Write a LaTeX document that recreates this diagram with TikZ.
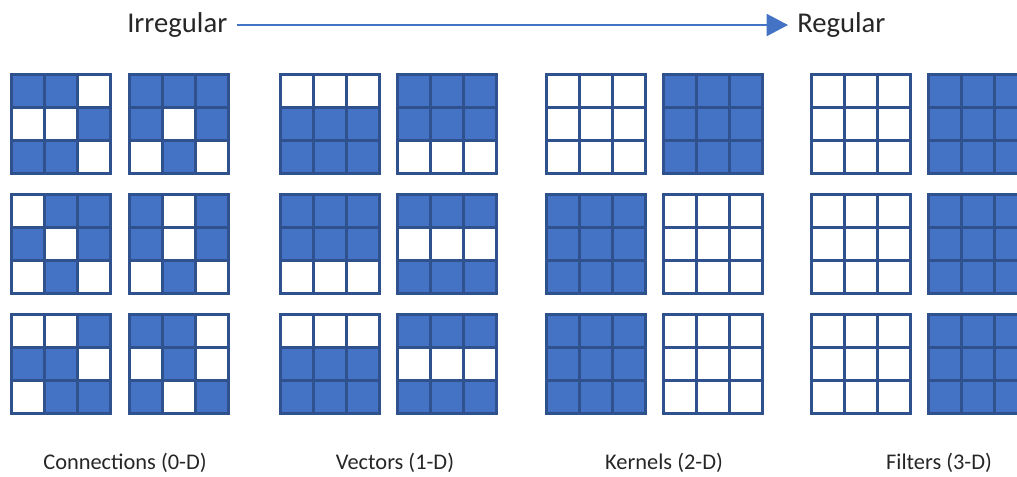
\documentclass[tikz,border=0pt]{standalone}
\usepackage{fontspec}
\setmainfont{Carlito}
\usetikzlibrary{positioning,arrows.meta}
\definecolor{cellblue}{HTML}{4472C4}
\definecolor{celledge}{HTML}{2F528F}
\tikzset{
  cell/.style={draw=celledge, line width=2.25pt},
  c0/.style={fill=white},
  c1/.style={fill=cellblue},
  head/.style={font=\fontsize{21.5}{24}\selectfont, inner sep=0pt, text=black!85},
  grplbl/.style={font=\fontsize{16.8}{20}\selectfont, inner sep=0pt, anchor=base, text=black!85},
  prog/.style={-{Triangle[length=16pt, width=16.5pt]}, draw=cellblue, line width=1.5pt, shorten <=7.5pt, shorten >=6.75pt},
}
% one 3x3 grid: top left corner, then the nine cells row by row (1 = filled)
\newcommand\cellgrid[3]{%
  \foreach \v [count=\k from 0] in {#3} {
    \pgfmathtruncatemacro\cc{mod(\k,3)}
    \pgfmathtruncatemacro\rr{div(\k,3)}
    \draw[cell, c\v] ({#1+33*\cc},{#2+33*\rr}) rectangle ++(33,33);
  }}
\begin{document}
\begin{tikzpicture}[x=0.75pt, y=-0.75pt]
\useasboundingbox (0,0) rectangle (1017,476);
\clip (0,0) rectangle (1017,476);
\node[head, anchor=base west] (irr) at (127,32.5) {Irregular};
\node[head, anchor=base west] (reg) at (797,32.5) {Regular};
\draw[prog] (irr) -- (reg);
% connections
\cellgrid{11.5}{74.5}{1,1,0,0,0,1,1,1,0}
\cellgrid{129.5}{74.5}{1,1,1,1,0,1,0,1,0}
\cellgrid{11.5}{194.5}{0,1,1,1,0,1,0,1,0}
\cellgrid{129.5}{194.5}{1,0,1,1,0,1,0,1,0}
\cellgrid{11.5}{314.5}{0,0,1,1,1,0,0,1,1}
\cellgrid{129.5}{314.5}{1,1,0,0,1,0,1,0,1}
% vectors
\cellgrid{280.5}{74.5}{0,0,0,1,1,1,1,1,1}
\cellgrid{397.5}{74.5}{1,1,1,1,1,1,0,0,0}
\cellgrid{280.5}{194.5}{1,1,1,1,1,1,0,0,0}
\cellgrid{397.5}{194.5}{1,1,1,0,0,0,1,1,1}
\cellgrid{280.5}{314.5}{0,0,0,1,1,1,1,1,1}
\cellgrid{397.5}{314.5}{1,1,1,0,0,0,1,1,1}
% kernels
\cellgrid{546.5}{74.5}{0,0,0,0,0,0,0,0,0}
\cellgrid{663.5}{74.5}{1,1,1,1,1,1,1,1,1}
\cellgrid{546.5}{194.5}{1,1,1,1,1,1,1,1,1}
\cellgrid{663.5}{194.5}{0,0,0,0,0,0,0,0,0}
\cellgrid{546.5}{314.5}{1,1,1,1,1,1,1,1,1}
\cellgrid{663.5}{314.5}{0,0,0,0,0,0,0,0,0}
% filters
\cellgrid{811.5}{74.5}{0,0,0,0,0,0,0,0,0}
\cellgrid{928.5}{74.5}{1,1,1,1,1,1,1,1,1}
\cellgrid{811.5}{194.5}{0,0,0,0,0,0,0,0,0}
\cellgrid{928.5}{194.5}{1,1,1,1,1,1,1,1,1}
\cellgrid{811.5}{314.5}{0,0,0,0,0,0,0,0,0}
\cellgrid{928.5}{314.5}{1,1,1,1,1,1,1,1,1}
\node[grplbl] (conn) at (125,469) {Connections (0-D)};
\node[grplbl] (vec) at (395,469) {Vectors (1-D)};
\node[grplbl] (kern) at (664,469) {Kernels (2-D)};
\node[grplbl] (filt) at (939,469) {Filters (3-D)};
\end{tikzpicture}
\end{document}
